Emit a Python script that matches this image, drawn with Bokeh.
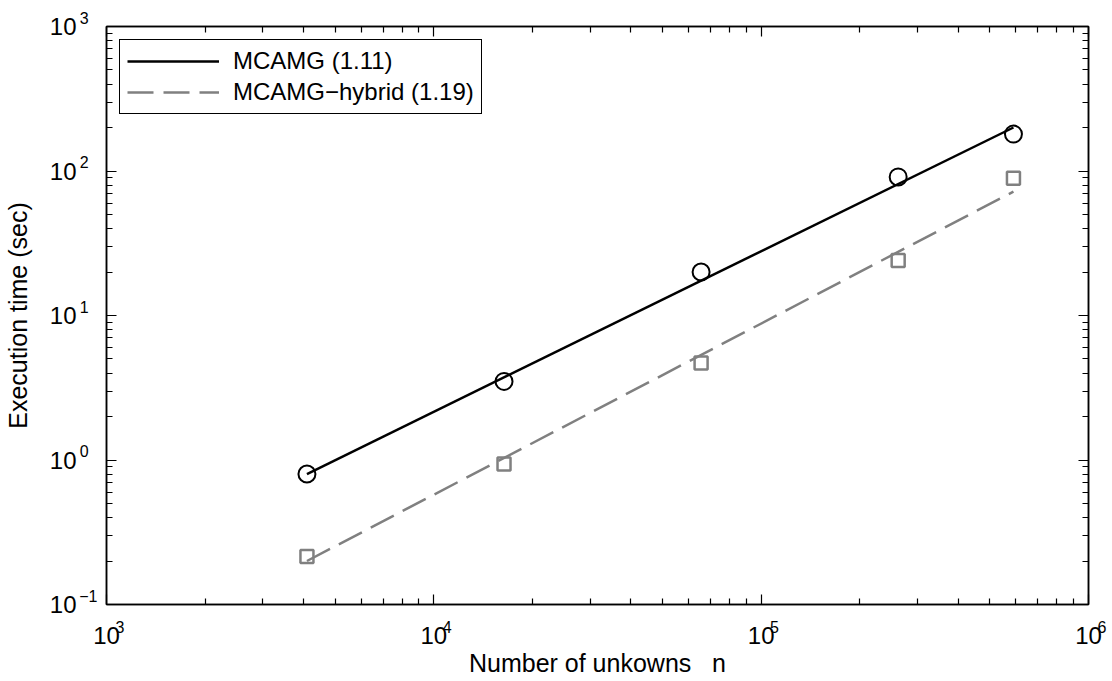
from bokeh.plotting import figure
from bokeh.models import (LogAxis, FixedTicker, CustomJSTickFormatter, Legend,
                          LegendItem, Range1d)
from bokeh.embed import file_html
from bokeh.resources import INLINE

# ---------------- data ----------------
n_unknowns = [4096, 16384, 65536, 262144, 589824]
time_mcamg = [0.80, 3.5, 20.0, 91.0, 180.0]
time_hybrid = [0.215, 0.94, 4.7, 24.0, 89.0]

# fitted lines (end points)
fit_n = [4096, 589824]
fit_mcamg = [0.80, 200.0]
fit_hybrid = [0.20, 72.0]

legend_labels = ["MCAMG (1.11)", "MCAMG\u2212hybrid (1.19)"]
x_label = "Number of unkowns\u00a0\u00a0 n"
y_label = "Execution time (sec)"

x_ticks = [1e3, 1e4, 1e5, 1e6]
y_ticks = [1e-1, 1e0, 1e1, 1e2, 1e3]
x_minor = [m * 10.0 ** d for d in range(3, 6) for m in range(2, 10)]
y_minor = [m * 10.0 ** d for d in range(-1, 3) for m in range(2, 10)]

FONT = "Liberation Sans"
GREY = "#808080"

p = figure(width=1112, height=681, x_axis_type="log", y_axis_type="log",
           x_range=Range1d(1e3, 1e6), y_range=Range1d(1e-1, 1e3),
           output_backend="svg", toolbar_location=None,
           min_border_left=106, min_border_right=24,
           min_border_top=26, min_border_bottom=77)
p.grid.visible = False
p.outline_line_color = "black"
p.outline_line_width = 1.5
p.outline_line_alpha = 1.0
p.background_fill_color = "white"
p.border_fill_color = "white"

tens_code = 'return "10";'
exp_y_code = """
const e = Math.round(Math.log10(tick));
const s = e < 0 ? "\\u2212" + String(-e) : String(e) + "\\u2007";
return s + "\\n";
"""
exp_x_code = """
const e = Math.round(Math.log10(tick));
return "\\u2007\\u2007\\u2007" + String(e);
"""
blank_code = 'return "";'


def tick_axis(ax, ticks, minor):
    ax.ticker = FixedTicker(ticks=ticks, minor_ticks=minor)
    ax.major_tick_in = 10
    ax.major_tick_out = 0
    ax.minor_tick_in = 6
    ax.minor_tick_out = 0
    ax.major_tick_line_color = "black"
    ax.minor_tick_line_color = "black"
    ax.major_tick_line_width = 1.2
    ax.minor_tick_line_width = 1.2
    ax.axis_line_color = "black"
    ax.axis_line_width = 1.5
    ax.major_label_text_font = FONT
    ax.major_label_text_color = "black"


def label_only_axis(ax, ticks):
    ax.ticker = FixedTicker(ticks=ticks, minor_ticks=[])
    ax.major_tick_in = 0
    ax.major_tick_out = 0
    ax.minor_tick_in = 0
    ax.minor_tick_out = 0
    ax.major_tick_line_color = None
    ax.minor_tick_line_color = None
    ax.axis_line_color = None
    ax.major_label_text_font = FONT
    ax.major_label_text_color = "black"
    ax.major_label_text_font_size = "24px"
    ax.formatter = CustomJSTickFormatter(code=tens_code)


# inner bottom axis: ticks + exponents
xa = p.xaxis[0]
tick_axis(xa, x_ticks, x_minor)
xa.formatter = CustomJSTickFormatter(code=exp_x_code)
xa.major_label_text_font_size = "16px"
xa.major_label_standoff = 14

# inner left axis: ticks + exponents
ya = p.yaxis[0]
tick_axis(ya, y_ticks, y_minor)
ya.formatter = CustomJSTickFormatter(code=exp_y_code)
ya.major_label_text_font_size = "16px"
ya.major_label_text_line_height = 1.0
ya.major_label_standoff = 9

# outer axes: the "10" bases and the axis titles
x_base = LogAxis()
label_only_axis(x_base, x_ticks)
x_base.major_label_standoff = -12
x_base.axis_label = x_label
x_base.axis_label_text_font = FONT
x_base.axis_label_text_font_size = "25px"
x_base.axis_label_text_font_style = "normal"
x_base.axis_label_text_color = "black"
x_base.axis_label_standoff = 2
p.add_layout(x_base, "below")

y_base = LogAxis()
label_only_axis(y_base, y_ticks)
y_base.major_label_standoff = 0
y_base.axis_label = y_label
y_base.axis_label_text_font = FONT
y_base.axis_label_text_font_size = "25px"
y_base.axis_label_text_font_style = "normal"
y_base.axis_label_text_color = "black"
y_base.axis_label_standoff = 15
p.add_layout(y_base, "left")

# tick marks on the top and right sides
top_ax = LogAxis()
right_ax = LogAxis()
for ax, t, m in ((top_ax, x_ticks, x_minor), (right_ax, y_ticks, y_minor)):
    tick_axis(ax, t, m)
    ax.formatter = CustomJSTickFormatter(code=blank_code)
    ax.major_label_text_font_size = "0px"
    ax.major_label_standoff = 0
p.add_layout(top_ax, "above")
p.add_layout(right_ax, "right")

r1 = p.line(fit_n, fit_mcamg, line_color="black", line_width=2.5)
r2 = p.line(fit_n, fit_hybrid, line_color=GREY, line_width=2.5, line_dash="26 10")
p.scatter(n_unknowns, time_mcamg, marker="circle", size=17, fill_color=None,
          line_color="black", line_width=2)
p.scatter(n_unknowns, time_hybrid, marker="square", size=13, fill_color=None,
          line_color=GREY, line_width=2.5)

legend = Legend(items=[LegendItem(label=legend_labels[0], renderers=[r1]),
                       LegendItem(label=legend_labels[1], renderers=[r2])],
                location="top_left", margin=13, padding=7, spacing=3,
                glyph_width=92, glyph_height=22, label_standoff=14,
                label_text_font=FONT, label_text_font_size="24px",
                label_text_color="black",
                border_line_color="black", border_line_width=1.5,
                border_line_alpha=1.0,
                background_fill_color="white", background_fill_alpha=1.0)
p.add_layout(legend)

open("out.html", "w").write(file_html(p, INLINE))
